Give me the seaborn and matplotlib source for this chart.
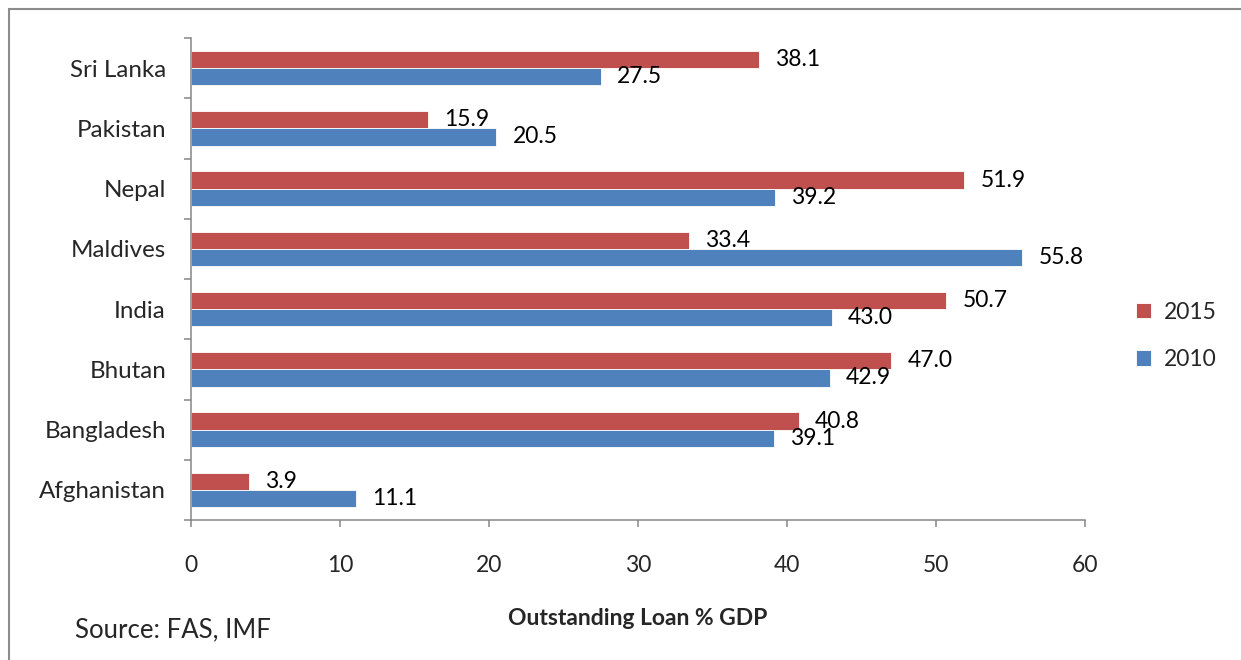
import matplotlib
matplotlib.use("Agg")
import matplotlib.pyplot as plt
import seaborn as sns
import pandas as pd
from matplotlib.patches import Rectangle
from matplotlib.ticker import FixedLocator

countries = ["Sri Lanka", "Pakistan", "Nepal", "Maldives", "India",
             "Bhutan", "Bangladesh", "Afghanistan"]
values_2015 = [38.1, 15.9, 51.9, 33.4, 50.7, 47.0, 40.8, 3.9]
values_2010 = [27.5, 20.5, 39.2, 55.8, 43.0, 42.9, 39.1, 11.1]
years = ["2015", "2010"]
x_ticks = [0, 10, 20, 30, 40, 50, 60]

df = pd.DataFrame({
    "Country": countries * 2,
    "Year": [years[0]] * len(countries) + [years[1]] * len(countries),
    "Value": values_2015 + values_2010,
})

sns.set_theme(style="white")
plt.rcParams["font.family"] = ["Lato", "DejaVu Sans"]

palette = {"2015": "#C0504D", "2010": "#4F81BD"}
spine_col = "#868686"
W, H = 1241, 660

fig = plt.figure(figsize=(W / 100, H / 100), dpi=100)
ax = fig.add_axes([191 / W, 1 - 520 / H, (1085 - 191) / W, (520 - 38) / H])

sns.barplot(data=df, y="Country", x="Value", hue="Year", order=countries,
            hue_order=years, palette=palette, orient="h", width=0.57,
            gap=0, saturation=1, ax=ax, edgecolor="white", linewidth=0.6)

for cont in ax.containers:
    ax.bar_label(cont, fmt="%.1f", padding=11.5, fontsize=16.5, color="black")

ax.set_xlim(0, 60)
ax.set_ylim(len(countries) - 0.5, -0.5)
ax.set_xticks(x_ticks)
ax.set_xticklabels([str(t) for t in x_ticks])
ax.yaxis.set_minor_locator(FixedLocator([i - 0.5 for i in range(len(countries) + 1)]))
ax.tick_params(axis="y", which="major", length=0, pad=18, labelsize=17.4)
ax.tick_params(axis="y", which="minor", length=5, width=1.1, color=spine_col, left=True)
ax.tick_params(axis="x", which="major", length=5, width=1.1, color=spine_col,
               bottom=True, pad=20, labelsize=16.5)

for side in ["top", "right"]:
    ax.spines[side].set_visible(False)
for side in ["left", "bottom"]:
    ax.spines[side].set_color(spine_col)
    ax.spines[side].set_linewidth(1.1)

ax.set_ylabel("")
ax.set_xlabel("Outstanding Loan % GDP", fontsize=16.5, fontweight="bold", labelpad=23)

ax.legend(loc="center left", bbox_to_anchor=(1136 / W, 1 - 336 / H),
          bbox_transform=fig.transFigure, frameon=False, borderaxespad=0,
          borderpad=0, fontsize=16.5, handlelength=0.65, handleheight=0.65,
          labelspacing=1.15, handletextpad=0.55)

fig.text(75 / W, 1 - 630 / H, "Source: FAS, IMF", fontsize=18.5,
         ha="left", va="center")

fig.patches.append(Rectangle((9 / W, -0.1), 1.2, 1 - 9 / H + 0.1,
                             transform=fig.transFigure, fill=False,
                             edgecolor="#8C8C8C", linewidth=1.5))

fig.savefig("out.png", dpi=100)
